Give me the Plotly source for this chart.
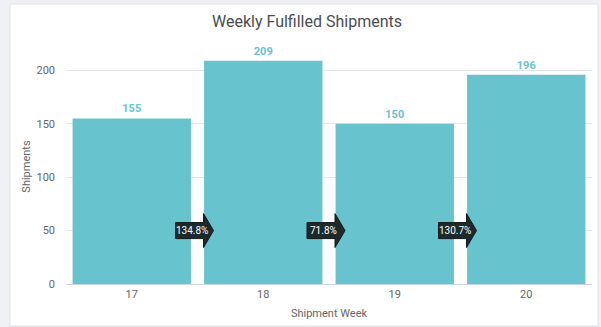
import plotly.graph_objects as go

# Weekly fulfilled shipment counts
weeks = ["17", "18", "19", "20"]
shipments = [155, 209, 150, 196]
y_ticks = [0, 50, 100, 150, 200]

BAR_COLOR = "#67c3ce"
TEXT_GRAY = "#666666"
FONT = "Roboto"

W, H = 601, 327
ML, MR, MT, MB = 66, 9, 49, 43
plot_w = W - ML - MR
plot_h = H - MT - MB

pos = list(range(len(weeks)))

fig = go.Figure(
    go.Bar(
        x=pos,
        y=shipments,
        width=0.9,
        marker=dict(color=BAR_COLOR, line=dict(width=0)),
        text=[f"<b>{v}</b>" for v in shipments],
        textposition="outside",
        textfont=dict(color=BAR_COLOR, size=11, family=FONT),
        cliponaxis=False,
        hoverinfo="skip",
    )
)

# White card behind the chart
fig.add_shape(
    type="rect", xref="paper", yref="paper", layer="below",
    x0=(10 - ML) / plot_w, x1=(598 - ML) / plot_w,
    y0=-(326 - (MT + plot_h)) / plot_h, y1=(H - MB - 4) / plot_h,
    fillcolor="white", line=dict(color="#e2e5e9", width=1),
)

# Week-over-week ratio arrows between neighbouring bars
arrow_y = 50
arrow_path = "M -22,-8 L 6,-8 L 6,-17 L 16,0 L 6,17 L 6,8 L -22,8 Z"
for i in range(len(shipments) - 1):
    ratio = shipments[i + 1] / shipments[i] * 100
    fig.add_shape(
        type="path", xref="x", yref="y",
        xsizemode="pixel", ysizemode="pixel",
        xanchor=i + 0.5, yanchor=arrow_y,
        path=arrow_path,
        fillcolor="#1d2a2c", line=dict(color="#111b1c", width=1),
        layer="above",
    )
    fig.add_annotation(
        x=i + 0.5, y=arrow_y, xshift=-6,
        text=f"{ratio:.1f}%", showarrow=False,
        font=dict(color="white", size=10, family=FONT),
    )

fig.update_layout(
    width=W, height=H,
    margin=dict(l=ML, r=MR, t=MT, b=MB),
    paper_bgcolor="#eef0f3",
    plot_bgcolor="rgba(0,0,0,0)",
    showlegend=False,
    bargap=0.1,
    font=dict(family=FONT, color=TEXT_GRAY),
    title=dict(
        text="Weekly Fulfilled Shipments",
        x=307 / W, xanchor="center",
        y=1 - 21.5 / H, yanchor="middle",
        font=dict(size=16, color="#4a4d52", family=FONT),
    ),
    xaxis=dict(
        tickvals=pos, ticktext=weeks,
        range=[-0.5, len(weeks) - 0.5],
        showgrid=False, zeroline=False,
        showline=True, linecolor="#ccd6eb", linewidth=1,
        ticks="",
        tickfont=dict(size=11, color=TEXT_GRAY, family=FONT),
        title=dict(text="Shipment Week", standoff=9,
                   font=dict(size=11, color=TEXT_GRAY, family=FONT)),
    ),
    yaxis=dict(
        range=[0, 220],
        tickvals=y_ticks,
        showgrid=True, gridcolor="#e6e6e6", gridwidth=1,
        zeroline=False, showline=False,
        ticks="", ticklabelstandoff=10,
        tickfont=dict(size=11, color=TEXT_GRAY, family=FONT),
        title=dict(text="Shipments", standoff=3,
                   font=dict(size=11, color=TEXT_GRAY, family=FONT)),
    ),
)

fig.write_html("out.html")
